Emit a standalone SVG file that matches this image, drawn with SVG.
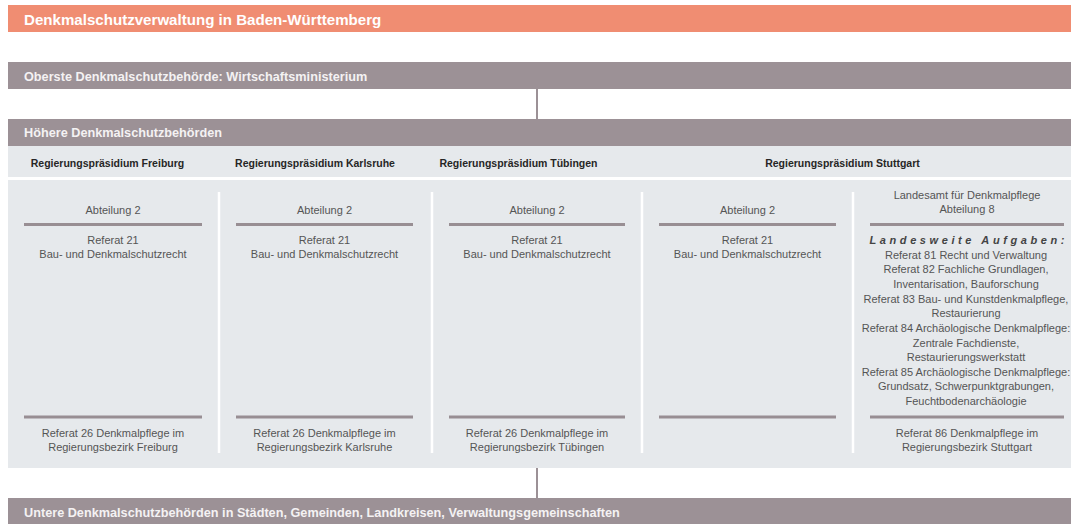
<svg xmlns="http://www.w3.org/2000/svg" width="1071" height="524" viewBox="0 0 1071 524">
  <style>
    text { font-family: "Liberation Sans", Arial, sans-serif; }
    .title { font-size: 15.1px; font-weight: bold; fill: #ffffff; }
    .bar { fill: #9c9196; }
    .barText { font-size: 12.7px; font-weight: bold; fill: #f4f2f3; }
    .panel { fill: #e6e9ec; }
    .head { font-size: 10.5px; font-weight: bold; fill: #262626; text-anchor: middle; }
    .body { font-size: 11px; fill: #555555; text-anchor: middle; }
    .task { font-size: 11px; font-weight: bold; font-style: italic; fill: #444444; letter-spacing: 3.6px; text-anchor: middle; }
    .rule { stroke: #988e93; stroke-width: 3; }
    .sep { stroke: #ffffff; stroke-width: 2.5; }
    .link { stroke: #9c9196; stroke-width: 2; }
  </style>

  <!-- heading band -->
  <g id="title">
    <rect x="8" y="5" width="1063" height="27" fill="#f08d72"/>
    <text class="title" x="24" y="25">Denkmalschutzverwaltung in Baden-Württemberg</text>
  </g>

  <!-- connectors between levels -->
  <g id="connectors">
    <line class="link" x1="537" y1="89" x2="537" y2="119"/>
    <line class="link" x1="537" y1="468" x2="537" y2="498"/>
  </g>

  <g id="oberste">
    <rect class="bar" x="8" y="62" width="1063" height="27"/>
    <text class="barText" x="24" y="80.5">Oberste Denkmalschutzbehörde: Wirtschaftsministerium</text>
  </g>

  <g id="hoehere">
    <rect class="bar" x="8" y="119" width="1063" height="27"/>
    <text class="barText" x="24" y="137">Höhere Denkmalschutzbehörden</text>
    <rect class="panel" x="8" y="146" width="1063" height="31"/>
    <text class="head" x="107.5" y="167">Regierungspräsidium Freiburg</text>
    <text class="head" x="315" y="167">Regierungspräsidium Karlsruhe</text>
    <text class="head" x="518.5" y="167">Regierungspräsidium Tübingen</text>
    <text class="head" x="842.5" y="167">Regierungspräsidium Stuttgart</text>
    <rect class="panel" x="8" y="180" width="1063" height="288"/>
    <line class="sep" x1="219" y1="192" x2="219" y2="453"/>
    <line class="sep" x1="432" y1="192" x2="432" y2="453"/>
    <line class="sep" x1="642" y1="192" x2="642" y2="453"/>
    <line class="sep" x1="853" y1="192" x2="853" y2="453"/>
  </g>

  <g id="rp-freiburg">
    <text class="body" x="113" y="214">Abteilung 2</text>
    <line class="rule" x1="24" y1="224.5" x2="202" y2="224.5"/>
    <text class="body" x="113" y="243.5">Referat 21</text>
    <text class="body" x="113" y="258.3">Bau- und Denkmalschutzrecht</text>
    <line class="rule" x1="24" y1="417" x2="202" y2="417"/>
    <text class="body" x="113" y="437">Referat 26 Denkmalpflege im</text>
    <text class="body" x="113" y="451">Regierungsbezirk Freiburg</text>
  </g>

  <g id="rp-karlsruhe">
    <text class="body" x="324.5" y="214">Abteilung 2</text>
    <line class="rule" x1="236" y1="224.5" x2="413" y2="224.5"/>
    <text class="body" x="324.5" y="243.5">Referat 21</text>
    <text class="body" x="324.5" y="258.3">Bau- und Denkmalschutzrecht</text>
    <line class="rule" x1="236" y1="417" x2="413" y2="417"/>
    <text class="body" x="324.5" y="437">Referat 26 Denkmalpflege im</text>
    <text class="body" x="324.5" y="451">Regierungsbezirk Karlsruhe</text>
  </g>

  <g id="rp-tuebingen">
    <text class="body" x="537" y="214">Abteilung 2</text>
    <line class="rule" x1="449" y1="224.5" x2="625" y2="224.5"/>
    <text class="body" x="537" y="243.5">Referat 21</text>
    <text class="body" x="537" y="258.3">Bau- und Denkmalschutzrecht</text>
    <line class="rule" x1="449" y1="417" x2="625" y2="417"/>
    <text class="body" x="537" y="437">Referat 26 Denkmalpflege im</text>
    <text class="body" x="537" y="451">Regierungsbezirk Tübingen</text>
  </g>

  <g id="rp-stuttgart">
    <text class="body" x="747.5" y="214">Abteilung 2</text>
    <line class="rule" x1="659" y1="224.5" x2="836" y2="224.5"/>
    <text class="body" x="747.5" y="243.5">Referat 21</text>
    <text class="body" x="747.5" y="258.3">Bau- und Denkmalschutzrecht</text>
    <line class="rule" x1="659" y1="417" x2="836" y2="417"/>
  </g>

  <g id="landesamt">
    <text class="body" x="967" y="198.5">Landesamt für Denkmalpflege</text>
    <text class="body" x="967" y="213">Abteilung 8</text>
    <line class="rule" x1="870" y1="224.5" x2="1064" y2="224.5"/>
    <text class="task" x="968.8" y="244">Landesweite Aufgaben:</text>
    <text class="body" x="966" y="258.6">Referat 81 Recht und Verwaltung</text>
    <text class="body" x="966" y="273.3">Referat 82 Fachliche Grundlagen,</text>
    <text class="body" x="966" y="287.9">Inventarisation, Bauforschung</text>
    <text class="body" x="966" y="302.6">Referat 83 Bau- und Kunstdenkmalpflege,</text>
    <text class="body" x="966" y="317.2">Restaurierung</text>
    <text class="body" x="966" y="331.8">Referat 84 Archäologische Denkmalpflege:</text>
    <text class="body" x="966" y="346.5">Zentrale Fachdienste,</text>
    <text class="body" x="966" y="361.1">Restaurierungswerkstatt</text>
    <text class="body" x="966" y="375.8">Referat 85 Archäologische Denkmalpflege:</text>
    <text class="body" x="966" y="390.4">Grundsatz, Schwerpunktgrabungen,</text>
    <text class="body" x="966" y="405">Feuchtbodenarchäologie</text>
    <line class="rule" x1="870" y1="417" x2="1064" y2="417"/>
    <text class="body" x="967" y="437">Referat 86 Denkmalpflege im</text>
    <text class="body" x="967" y="451">Regierungsbezirk Stuttgart</text>
  </g>

  <g id="untere">
    <rect class="bar" x="8" y="498" width="1063" height="26"/>
    <text class="barText" x="24" y="517">Untere Denkmalschutzbehörden in Städten, Gemeinden, Landkreisen, Verwaltungsgemeinschaften</text>
  </g>
</svg>
